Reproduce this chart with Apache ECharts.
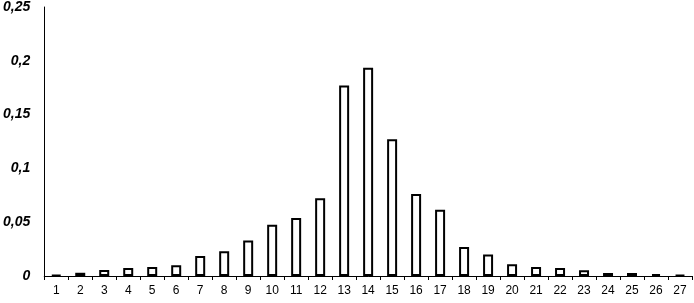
<!DOCTYPE html>
<html>
<head>
<meta charset="utf-8">
<script src="https://cdn.jsdelivr.net/npm/echarts@6/dist/echarts.min.js"></script>
<style>
html,body{margin:0;padding:0;background:#fff;}
#chart{width:694px;height:303px;}
</style>
</head>
<body>
<div id="chart"></div>
<script>
const categories = ['1','2','3','4','5','6','7','8','9','10','11','12','13','14','15','16','17','18','19','20','21','22','23','24','25','26','27'];
const values = [0.001,0.003,0.0055,0.0074,0.0083,0.010,0.0185,0.023,0.033,0.0477,0.054,0.0723,0.177,0.1935,0.127,0.0763,0.0615,0.027,0.020,0.011,0.0083,0.0074,0.0053,0.0028,0.0028,0.0018,0.001];
const yTickLabels = {0:'0',0.05:'0,05',0.1:'0,1',0.15:'0,15',0.2:'0,2',0.25:'0,25'};

const chart = echarts.init(document.getElementById('chart'), null, {renderer:'canvas'});
chart.setOption({
  animation:false,
  grid:{left:42,right:2,top:5,bottom:27},
  xAxis:{
    type:'category',
    data:categories,
    boundaryGap:true,
    axisLine:{lineStyle:{color:'#000',width:1}},
    axisTick:{show:true,length:4,lineStyle:{color:'#000'},interval:0},
    axisLabel:{interval:0,color:'#000',fontFamily:'Liberation Sans, Arial, sans-serif',fontSize:12,margin:9}
  },
  yAxis:{
    type:'value',
    min:0,max:0.25,interval:0.05,
    splitLine:{show:false},
    axisLine:{show:true,lineStyle:{color:'#000',width:1}},
    axisTick:{show:false},
    axisLabel:{
      color:'#000',fontFamily:'Liberation Sans, Arial, sans-serif',fontSize:14,fontWeight:'bold',fontStyle:'italic',margin:14,
      formatter:function(v){ const k = Math.round(v*100)/100; return yTickLabels[k] !== undefined ? yTickLabels[k] : String(v).replace('.',','); }
    }
  },
  series:[{
    type:'bar',
    data:values,
    barWidth:10,
    itemStyle:{color:'#fff',borderColor:'#000',borderWidth:2}
  }]
});
</script>
</body>
</html>
